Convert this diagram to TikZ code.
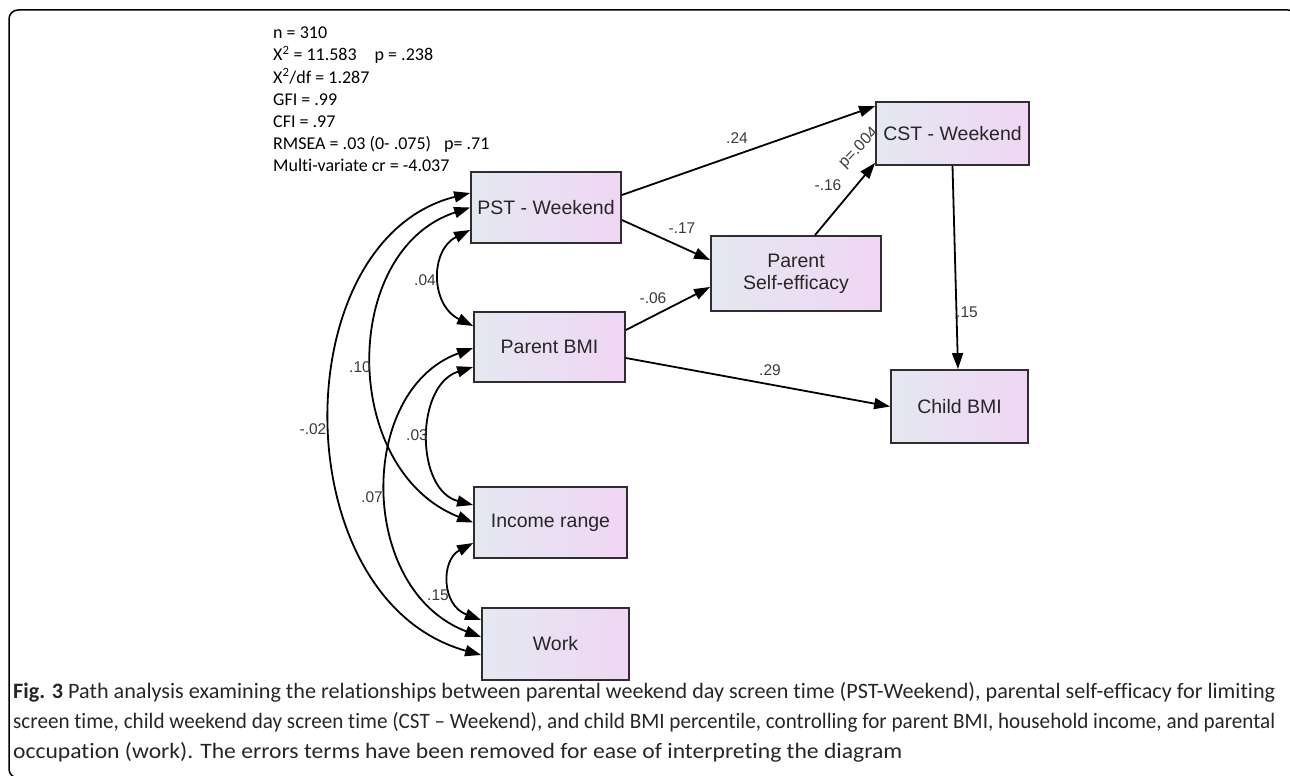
\documentclass[tikz,border=0pt]{standalone}
\usepackage{fontspec}
\setmainfont{Liberation Sans}
\newfontfamily\hdrfont[Ligatures=CommonOff]{Carlito}
\usepackage{graphicx}
\usetikzlibrary{arrows.meta,calc}
\definecolor{boxline}{HTML}{2E2E2E}
\definecolor{boxL}{HTML}{E4E8F1}
\definecolor{boxR}{HTML}{F0D6F4}
\definecolor{lbl}{HTML}{3A3A3A}
\tikzset{
  varbox/.style={draw=boxline, line width=1.8pt, left color=boxL, right color=boxR,
    inner sep=0pt, align=center, font=\fontsize{19.5}{22}\selectfont, text=black!85},
  dirpath/.style={line width=1.8pt, -{Triangle[length=16pt,width=11pt]}},
  covpath/.style={line width=1.8pt, {Triangle[length=16pt,width=11pt]}-{Triangle[length=16pt,width=11pt]}},
  elabel/.style={font=\fontsize{15.5}{18}\selectfont, text=lbl, inner sep=0pt},
  hdrtext/.style={font=\hdrfont\fontsize{18}{22}\selectfont, anchor=base west, inner sep=0pt},
  captext/.style={font=\hdrfont\fontsize{22}{26}\selectfont, anchor=base west, inner sep=0pt, text=black!85}
}
\begin{document}
\begin{tikzpicture}[x=1pt,y=-1pt]
\useasboundingbox (0,0) rectangle (1290,776);
\begin{scope}
\clip (0,0) rectangle (1290,776);
\draw[line width=1.5pt, rounded corners=9pt] (9,10) rectangle (1297,778);
\end{scope}

% header statistics
\node[hdrtext] (h1) at (273,39) {n = 310};
\node[hdrtext] (h2) at (273,61) {X\textsuperscript{2} = 11.583\quad p = .238};
\node[hdrtext] (h3) at (273,83) {X\textsuperscript{2}/df = 1.287};
\node[hdrtext] (h4) at (273,105) {GFI = .99};
\node[hdrtext] (h5) at (273,127) {CFI = .97};
\node[hdrtext] (h6) at (273,149) {RMSEA = .03 (0- .075)\enspace\ p= .71};
\node[hdrtext] (h7) at (273,171) {Multi-variate cr = -4.037};

% variables
\node[varbox, minimum width=150pt, minimum height=71pt] (pst) at (546,207.5) {PST - Weekend};
\node[varbox, minimum width=170pt, minimum height=75pt] (pse) at (796,273.5) {Parent\\Self-efficacy};
\node[varbox, minimum width=153pt, minimum height=63pt] (cst) at (952.5,133.5) {CST - Weekend};
\node[varbox, minimum width=151pt, minimum height=70pt] (bmi) at (549.5,347) {Parent BMI};
\node[varbox, minimum width=137pt, minimum height=73pt] (child) at (959.5,406.5) {Child BMI};
\node[varbox, minimum width=153pt, minimum height=71pt] (inc) at (550.5,522.5) {Income range};
\node[varbox, minimum width=147pt, minimum height=72pt] (work) at (555.5,644) {Work};

% directed paths
\draw[dirpath] ([yshift=12.5pt]pst.east) -- ([yshift=-5pt]cst.north west);
\draw[dirpath] ([yshift=-12.5pt]pst.east) -- ([yshift=13.5pt]pse.west);
\draw[dirpath] ([yshift=17pt]bmi.east) -- ([yshift=-13.5pt]pse.west);
\draw[dirpath] ([xshift=19pt]pse.north) -- ([yshift=3pt]cst.south west);
\draw[dirpath] (cst.south) -- ([xshift=-1.5pt]child.north);
\draw[dirpath] ([yshift=-11pt]bmi.east) -- (child.west);

\node[elabel] (l24) at (737,138) {.24};
\node[elabel] (l17) at (682,228) {-.17};
\node[elabel] (l06) at (653,298) {-.06};
\node[elabel] (l16) at (828,185) {-.16};
\node[elabel, font=\fontsize{16}{18}\selectfont, rotate=46] (lp) at (859,148) {p=.004};
\node[elabel] (l15a) at (967,312) {.15};
\node[elabel] (l29) at (770,370) {.29};

% covariances
\draw[covpath] ([yshift=-22.5pt]pst.west) .. controls (430,250) and (430,305) .. ([yshift=21pt]bmi.west);
\draw[covpath] (pst.west) .. controls (340,250) and (340,470) .. (inc.west);
\draw[covpath] ([yshift=14.5pt]pst.west) .. controls (283,240) and (283,600) .. ([yshift=-11pt]work.west);
\draw[covpath] ([yshift=-1pt]bmi.west) .. controls (357,390) and (357,590) .. ([yshift=7pt]work.west);
\draw[covpath] ([yshift=-20pt]bmi.west) .. controls (415,385) and (415,490) .. ([yshift=17.5pt]inc.west);
\draw[covpath] ([yshift=-20.5pt]inc.west) .. controls (441,560) and (441,605) .. ([yshift=24pt]work.west);

\node[elabel] (l04) at (425,280) {.04};
\node[elabel] (l10) at (360,367) {.10};
\node[elabel] (l02) at (313,429) {-.02};
\node[elabel] (l07) at (372,497) {.07};
\node[elabel] (l03) at (417,435) {.03};
\node[elabel] (l15b) at (438,595) {.15};

% caption
\node[captext] (c1) at (13,698) {\resizebox{1262pt}{\height}{\textbf{Fig. 3} Path analysis examining the relationships between parental weekend day screen time (PST-Weekend), parental self-efficacy for limiting}};
\node[captext] (c2) at (13,728) {\resizebox{1262pt}{\height}{screen time, child weekend day screen time (CST – Weekend), and child BMI percentile, controlling for parent BMI, household income, and parental}};
\node[captext] (c3) at (13,758) {\resizebox{889pt}{\height}{occupation (work). The errors terms have been removed for ease of interpreting the diagram}};
\end{tikzpicture}
\end{document}
